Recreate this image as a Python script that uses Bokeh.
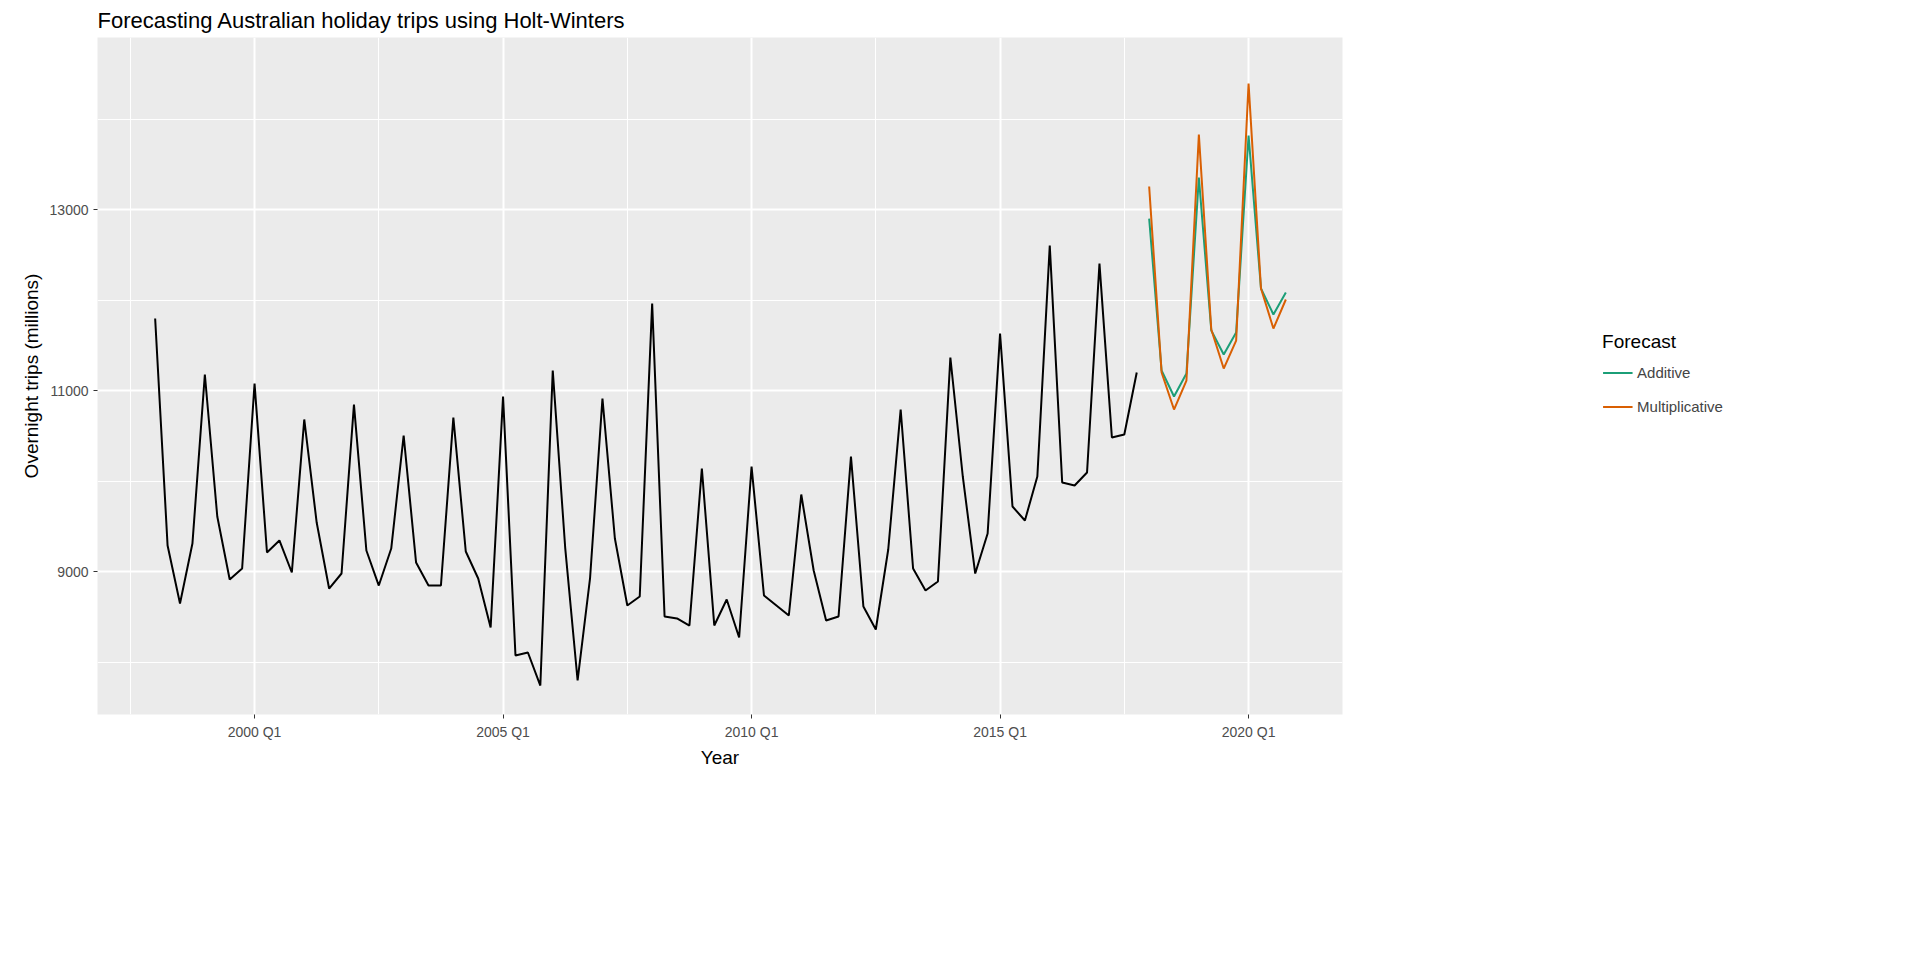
from bokeh.plotting import figure
from bokeh.models import FixedTicker, Legend, LegendItem, Range1d
from bokeh.embed import file_html
from bokeh.resources import INLINE

start_year = 1998
trips = [11796, 9287, 8646, 9309, 11177, 9608, 8912, 9033, 11077, 9210, 9343, 8989,
         10680, 9541, 8812, 8978, 10845, 9232, 8845, 9254, 10503, 9099, 8845, 8845,
         10702, 9221, 8923, 8381, 10934, 8072, 8105, 7740, 11221, 9265, 7796, 8923,
         10912, 9365, 8624, 8724, 11961, 8503, 8481, 8403, 10138, 8403, 8691, 8271,
         10160, 8735, 8624, 8514, 9851, 9011, 8459, 8503, 10271, 8613, 8359, 9243,
         10790, 9033, 8790, 8890, 11365, 10050, 8978, 9420, 11630, 9718, 9564, 10050,
         12602, 9983, 9950, 10094, 12403, 10481, 10514, 11199]
fc_start_year = 2018
additive = [12900, 11221, 10934, 11188, 13354, 11663, 11398, 11641, 13818, 12127, 11840, 12083]
multiplicative = [13254, 11199, 10790, 11110, 13829, 11674, 11243, 11552, 14392, 12127, 11685, 12006]
tick_years = [2000, 2005, 2010, 2015, 2020]
tick_labels = ["2000 Q1", "2005 Q1", "2010 Q1", "2015 Q1", "2020 Q1"]
y_ticks = [9000, 11000, 13000]

x_hist = [start_year + i * 0.25 for i in range(len(trips))]
x_fc = [fc_start_year + i * 0.25 for i in range(len(additive))]

p = figure(frame_width=1245, frame_height=677, output_backend="svg", toolbar_location=None,
           x_range=Range1d(1996.84, 2021.89), y_range=Range1d(7420, 14901),
           title="Forecasting Australian holiday trips using Holt-Winters",
           min_border_left=97, min_border_top=27, min_border_bottom=10, min_border_right=10)
p.background_fill_color = "#EBEBEB"
p.outline_line_color = None
p.title.text_font = "Liberation Sans"
p.title.text_font_size = "22px"
p.title.text_font_style = "normal"
p.title.text_color = "black"
p.title.offset = 0

p.line(x_hist, trips, line_color="black", line_width=2)
ra = p.line(x_fc, additive, line_color="#1B9E77", line_width=2)
rm = p.line(x_fc, multiplicative, line_color="#D95F02", line_width=2)

p.xaxis.ticker = FixedTicker(ticks=tick_years, minor_ticks=[y + 2.5 for y in [1995] + tick_years])
p.xaxis.major_label_overrides = {y: l for y, l in zip(tick_years, tick_labels)}
p.yaxis.ticker = FixedTicker(ticks=y_ticks, minor_ticks=[8000, 10000, 12000, 14000])
for ax in (p.xaxis, p.yaxis):
    ax.axis_line_color = None
    ax.major_tick_line_color = "#333333"
    ax.major_tick_out = 4
    ax.major_tick_in = 0
    ax.minor_tick_line_color = None
    ax.major_label_text_font = "Liberation Sans"
    ax.major_label_text_font_size = "14px"
    ax.major_label_text_color = "#4D4D4D"
    ax.axis_label_text_font = "Liberation Sans"
    ax.axis_label_text_font_size = "19px"
    ax.axis_label_text_font_style = "normal"
    ax.axis_label_text_color = "black"
p.xaxis.axis_label = "Year"
p.yaxis.axis_label = "Overnight trips (millions)"
p.xaxis.axis_label_standoff = 4
for g in (p.xgrid, p.ygrid):
    g.grid_line_color = "white"
    g.grid_line_width = 2
    g.minor_grid_line_color = "white"
    g.minor_grid_line_width = 1

legend = Legend(items=[LegendItem(label="Additive", renderers=[ra]),
                       LegendItem(label="Multiplicative", renderers=[rm])],
                title="Forecast", location="center")
legend.title_text_font = "Liberation Sans"
legend.title_text_font_size = "19px"
legend.title_text_font_style = "normal"
legend.title_text_color = "black"
legend.label_text_font = "Liberation Sans"
legend.label_text_font_size = "15px"
legend.border_line_color = None
legend.glyph_width = 30
legend.glyph_height = 30
legend.spacing = 4
legend.margin = 25
p.add_layout(legend, "right")

open("out.html", "w").write(file_html(p, INLINE))
